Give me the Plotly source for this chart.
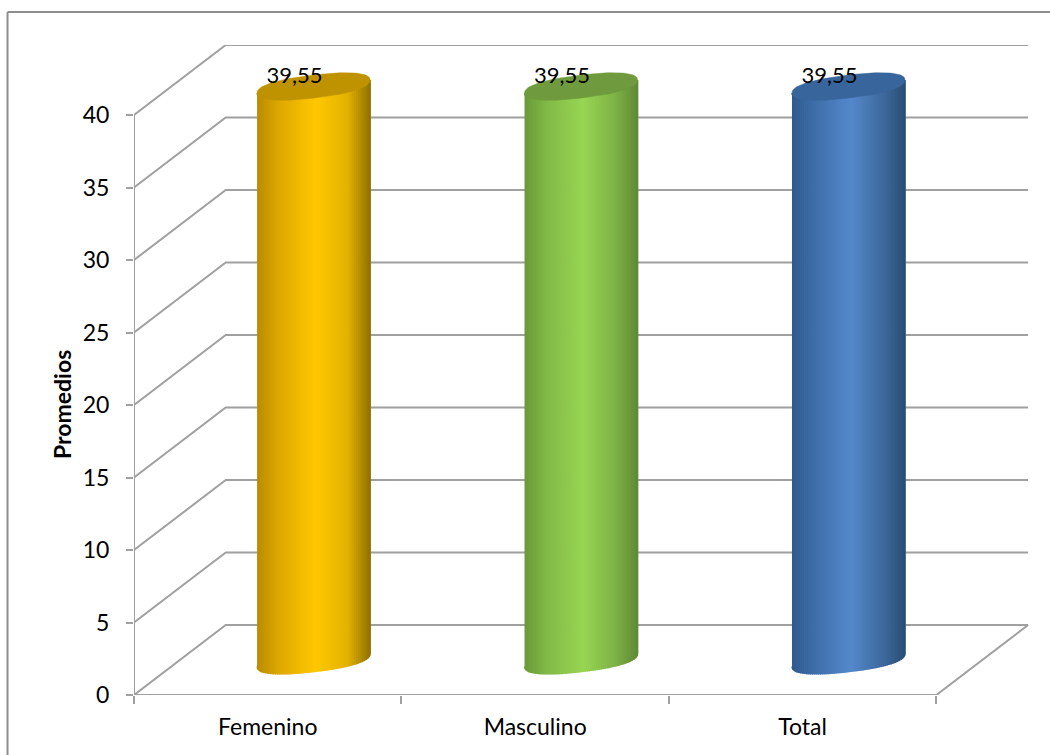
import numpy as np
import plotly.graph_objects as go

# Chart data
categories = ["Femenino", "Masculino", "Total"]
promedios = [39.55, 39.55, 39.55]
value_labels = ["39,55", "39,55", "39,55"]
y_ticks = [0, 5, 10, 15, 20, 25, 30, 35, 40]
axis_title = "Promedios"

# Cylinder shading: position across the cylinder -> colour, plus the lid colour
shade_positions = [0.0, 0.2, 0.52, 0.8, 1.0]
shade_colors = [
    ["#B98C00", "#DFA900", "#FFC800", "#E3B200", "#8F7100"],
    ["#6A9A3A", "#82BA48", "#98D552", "#7FB247", "#5F8A35"],
    ["#2F5A8F", "#3F6EA8", "#5588CC", "#3E6A9E", "#2A4E75"],
]
lid_colors = ["#BF9200", "#6F9A3D", "#38659B"]

# Oblique projection of the 3-D box, in axis units
WIDTH, HEIGHT = 1050, 755
M_L, M_R, M_T, M_B = 134.4, 21, 45, 60
PX_X = 267.33            # pixels per category
PX_Y = 14.5              # pixels per value unit
DEPTH_X = 91.7 / PX_X
DEPTH_Y = 70 / PX_Y
BAR_W = 113 / PX_X       # cylinder diameter
ELL_B = 11.5 / PX_Y      # ellipse half-height
ELL_S = 6.5 / PX_Y       # ellipse tilt
ROUND = 0.85             # exponent that rounds the ellipse shoulders
N_STRIPS = 56

GRID = "#A0A0A0"
LINE_W = 2
FONT = "Lato"
PLOT_W, PLOT_H = WIDTH - M_L - M_R, HEIGHT - M_T - M_B


def hex_rgb(h):
    return np.array([int(h[i:i + 2], 16) for i in (1, 3, 5)], float)


def shade(u, stops):
    rgb = [np.interp(u, shade_positions, [hex_rgb(c)[k] for c in stops]) for k in range(3)]
    return "rgb({:.0f},{:.0f},{:.0f})".format(*rgb)


def rim(cx, cy, t):
    """Points on the tilted, slightly squared ellipse of a cylinder end."""
    c, s = np.cos(t), np.sin(t)
    u = np.sign(c) * np.abs(c) ** ROUND
    v = np.sign(s) * np.abs(s) ** ROUND
    return cx + BAR_W / 2 * u, cy + ELL_B * v + ELL_S * u


fig = go.Figure()


def add_line(xs, ys):
    fig.add_trace(go.Scatter(x=xs, y=ys, mode="lines", cliponaxis=False, showlegend=False,
                             hoverinfo="skip", line=dict(color=GRID, width=LINE_W)))


# Back wall grid lines running over the side wall
for v in y_ticks:
    add_line([0, DEPTH_X, 3 + DEPTH_X], [v, v + DEPTH_Y, v + DEPTH_Y])

# Floor edges and the value axis
add_line([0, 3, 3 + DEPTH_X], [0, 0, DEPTH_Y])
add_line([0, 0], [0, y_ticks[-1]])

# Cylinders: thin shaded strips around the front, then the lid
floor_mid = DEPTH_Y / 2
for i, (val, stops, lid) in enumerate(zip(promedios, shade_colors, lid_colors)):
    cx = i + 0.5 + DEPTH_X / 2
    across = np.linspace(-1, 1, N_STRIPS + 1)
    t_edges = -np.arccos(np.sign(across) * np.abs(across) ** (1 / ROUND))
    for k in range(N_STRIPS):
        t_seg = np.linspace(t_edges[k], t_edges[k + 1], 4)
        xb, yb = rim(cx, floor_mid, t_seg)
        xt, yt = rim(cx, floor_mid + val, t_seg)
        color = shade((k + 0.5) / N_STRIPS, stops)
        fig.add_trace(go.Scatter(
            x=np.r_[xb, xt[::-1]], y=np.r_[yb, yt[::-1]], mode="lines", fill="toself",
            fillcolor=color, line=dict(color=color, width=1.6),
            showlegend=False, hoverinfo="skip"))
    xl, yl = rim(cx, floor_mid + val, np.linspace(0, 2 * np.pi, 120))
    fig.add_trace(go.Scatter(x=xl, y=yl, mode="lines", fill="toself", fillcolor=lid,
                             line=dict(color=lid, width=0.5), showlegend=False, hoverinfo="skip"))

# Value labels sit just above each lid, a little left of centre
fig.add_trace(go.Scatter(
    x=[i + 0.5 + DEPTH_X / 2 - 0.071 for i in range(len(categories))],
    y=[v + floor_mid + 0.65 for v in promedios],
    mode="text", text=value_labels, textposition="middle center",
    textfont=dict(family=FONT, size=22, color="black"),
    cliponaxis=False, showlegend=False, hoverinfo="skip"))

frame_x = (8 - M_L) / PLOT_W
frame_y = (M_T - 12) / PLOT_H + 1

fig.update_layout(
    width=WIDTH, height=HEIGHT, autosize=False,
    margin=dict(l=M_L, r=M_R, t=M_T, b=M_B),
    paper_bgcolor="white", plot_bgcolor="white",
    font=dict(family=FONT, size=23, color="black"),
    xaxis=dict(
        range=[0, PLOT_W / PX_X], showgrid=False, zeroline=False, showline=False,
        tickmode="array", tickvals=[i + 0.5 for i in range(len(categories))], ticktext=categories,
        ticks="", ticklabelstandoff=16,
        minor=dict(tickmode="array", tickvals=list(range(len(categories) + 1)), ticks="outside",
                   ticklen=8, tickcolor=GRID, tickwidth=LINE_W, showgrid=False),
    ),
    yaxis=dict(
        range=[0, PLOT_H / PX_Y], showgrid=False, zeroline=False, showline=False,
        tickmode="array", tickvals=y_ticks, ticks="outside", ticklen=7,
        tickcolor=GRID, tickwidth=LINE_W, ticklabelstandoff=12,
    ),
    shapes=[
        # Chart frame: left and top edges
        dict(type="line", xref="paper", yref="paper", line=dict(color="#8E8E8E", width=2),
             x0=frame_x, x1=frame_x, y0=-M_B / PLOT_H, y1=frame_y),
        dict(type="line", xref="paper", yref="paper", line=dict(color="#8E8E8E", width=2),
             x0=frame_x, x1=(WIDTH - M_L) / PLOT_W, y0=frame_y, y1=frame_y),
    ],
    annotations=[dict(
        text="<b>" + axis_title + "</b>", textangle=-90, showarrow=False,
        xref="paper", x=0, xshift=-88, yref="y", y=y_ticks[-1] / 2,
        font=dict(family=FONT, size=23, color="black"),
    )],
)

fig.write_html("out.html")
